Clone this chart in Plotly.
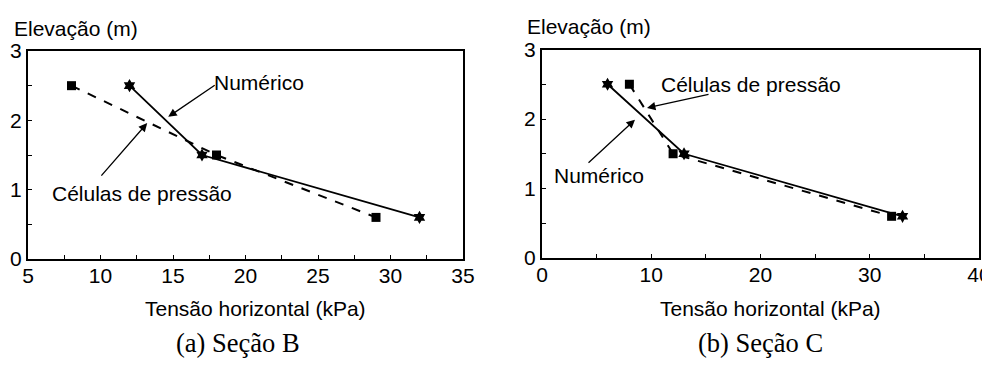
import plotly.graph_objects as go

# Seção B
b_num_x = [12, 17, 32]
b_num_y = [2.5, 1.5, 0.6]
b_cel_x = [8, 18, 29]
b_cel_y = [2.5, 1.5, 0.6]
# Seção C
c_num_x = [6, 13, 33]
c_num_y = [2.5, 1.5, 0.6]
c_cel_x = [8, 12, 32]
c_cel_y = [2.5, 1.5, 0.6]

x_title = "Tensão horizontal (kPa)"
y_title = "Elevação (m)"
sub_a = "(a) Seção B"
sub_b = "(b) Seção C"
lbl_num = "Numérico"
lbl_cel = "Células de pressão"

# page body has an 8px margin: figure is offset by (8, 8)
OX, OY = 8, 8
W, H = 982, 368
FONT = "Liberation Sans, Arial, sans-serif"
SERIF = "Liberation Serif, Times New Roman, serif"
FS = 21

def px(v):
    return (v - OX) / W

def py(v):
    return 1 - (v - OY) / H

fig = go.Figure()

def add_pair(nx, ny, cx, cy, xa, ya):
    fig.add_trace(go.Scatter(x=cx, y=cy, mode="lines+markers", xaxis=xa, yaxis=ya,
                             line=dict(color="black", width=2, dash="dash"),
                             marker=dict(symbol="square", size=9, color="black"),
                             showlegend=False, cliponaxis=False))
    fig.add_trace(go.Scatter(x=nx, y=ny, mode="lines+markers", xaxis=xa, yaxis=ya,
                             line=dict(color="black", width=1.8),
                             marker=dict(symbol="hexagram", size=10, color="black"),
                             showlegend=False, cliponaxis=False))

add_pair(b_num_x, b_num_y, b_cel_x, b_cel_y, "x", "y")
add_pair(c_num_x, c_num_y, c_cel_x, c_cel_y, "x2", "y2")

axis_common = dict(showline=True, mirror=True, linecolor="black", linewidth=2,
                   ticks="inside", ticklen=4, tickwidth=1, tickcolor="black",
                   showgrid=False, zeroline=False, automargin=False,
                   ticklabeloverflow="allow",
                   tickfont=dict(family=FONT, size=FS, color="black"))

fig.update_layout(
    width=W, height=H, margin=dict(l=0, r=0, t=0, b=0),
    paper_bgcolor="white", plot_bgcolor="white",
    xaxis=dict(domain=[px(28), px(463)], range=[5, 35], dtick=5, tick0=5,
               minor=dict(dtick=2.5, ticks="inside", ticklen=4, tickcolor="black"),
               anchor="y", ticklabelstandoff=-3, **axis_common),
    yaxis=dict(domain=[py(259), py(51)], range=[0, 3], dtick=1,
               minor=dict(dtick=0.5, ticks="inside", ticklen=4, tickcolor="black"),
               anchor="x", **axis_common),
    xaxis2=dict(domain=[px(542), px(979)], range=[0, 40], dtick=10, tick0=0,
                minor=dict(dtick=5, ticks="inside", ticklen=4, tickcolor="black"),
                anchor="y2", ticklabelstandoff=-3, **axis_common),
    yaxis2=dict(domain=[py(258), py(49.5)], range=[0, 3], dtick=1,
                minor=dict(dtick=0.5, ticks="inside", ticklen=4, tickcolor="black"),
                anchor="x2", **axis_common),
)

tf = dict(family=FONT, size=FS, color="black")
ann = []
# axis titles
ann.append(dict(text=y_title, x=px(12), y=py(28), xref="paper", yref="paper",
                xanchor="left", yanchor="middle", showarrow=False, font=tf))
ann.append(dict(text=y_title, x=px(525), y=py(27), xref="paper", yref="paper",
                xanchor="left", yanchor="middle", showarrow=False, font=tf))
ann.append(dict(text=x_title, x=px(255), y=py(308), xref="paper", yref="paper",
                xanchor="center", yanchor="middle", showarrow=False, font=tf))
ann.append(dict(text=x_title, x=px(770), y=py(308), xref="paper", yref="paper",
                xanchor="center", yanchor="middle", showarrow=False, font=tf))
# subtitles
sf = dict(family=SERIF, size=26.5, color="black")
ann.append(dict(text=sub_a, x=px(238), y=py(343), xref="paper", yref="paper",
                xanchor="center", yanchor="middle", showarrow=False, font=sf))
ann.append(dict(text=sub_b, x=px(760), y=py(343), xref="paper", yref="paper",
                xanchor="center", yanchor="middle", showarrow=False, font=sf))

def arrow(xa, ya, hx, hy, tx, ty):
    return dict(x=hx, y=hy, ax=tx, ay=ty, xref=xa, yref=ya, axref=xa, ayref=ya,
                text="", showarrow=True, arrowhead=2, arrowsize=1.3, arrowwidth=1.3,
                arrowcolor="black", standoff=0)

# Seção B labels
ann.append(dict(text=lbl_num, x=20.9, y=2.55, xref="x", yref="y", showarrow=False, font=tf))
ann.append(arrow("x", "y", 14.67, 2.05, 17.98, 2.52))
ann.append(dict(text=lbl_cel, x=12.87, y=0.95, xref="x", yref="y", showarrow=False, font=tf))
ann.append(arrow("x", "y", 13.22, 1.96, 9.97, 1.18))
# Seção C labels
ann.append(dict(text=lbl_cel, x=19.1, y=2.49, xref="x2", yref="y2", showarrow=False, font=tf))
ann.append(arrow("x2", "y2", 9.61, 2.16, 15.38, 2.36))
ann.append(dict(text=lbl_num, x=5.2, y=1.19, xref="x2", yref="y2", showarrow=False, font=tf))
ann.append(arrow("x2", "y2", 8.51, 1.99, 4.12, 1.35))

fig.update_layout(annotations=ann)
fig.write_html("out.html")
